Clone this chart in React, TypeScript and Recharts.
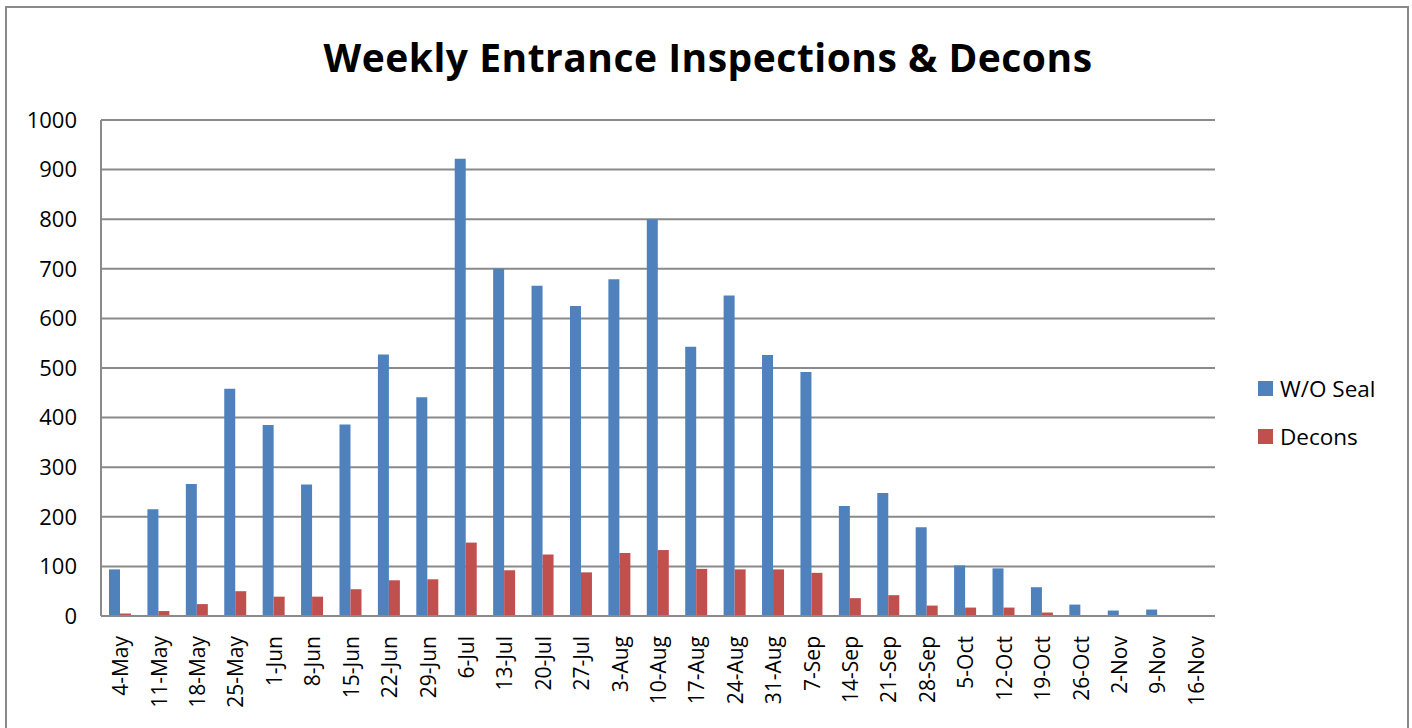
import React from "react";
import { BarChart, Bar, XAxis, YAxis, CartesianGrid } from "recharts";

const weeks = [
  "4-May", "11-May", "18-May", "25-May", "1-Jun", "8-Jun", "15-Jun", "22-Jun",
  "29-Jun", "6-Jul", "13-Jul", "20-Jul", "27-Jul", "3-Aug", "10-Aug", "17-Aug",
  "24-Aug", "31-Aug", "7-Sep", "14-Sep", "21-Sep", "28-Sep", "5-Oct", "12-Oct",
  "19-Oct", "26-Oct", "2-Nov", "9-Nov", "16-Nov",
];

const woSeal = [
  94, 215, 266, 458, 385, 265, 386, 527, 441, 922, 700, 666, 625, 679, 800,
  543, 646, 526, 492, 222, 248, 179, 102, 96, 58, 23, 11, 13, 0,
];

const decons = [
  5, 10, 24, 50, 39, 39, 54, 72, 74, 148, 92, 124, 88, 127, 133, 95, 94, 94,
  87, 36, 42, 21, 17, 17, 7, 0, 0, 0, 0,
];

const yTicks = [0, 100, 200, 300, 400, 500, 600, 700, 800, 900, 1000];

const series = [
  { key: "woSeal", name: "W/O Seal", color: "#4F81BD" },
  { key: "decons", name: "Decons", color: "#C0504D" },
];

const data = weeks.map((week, i) => ({
  week,
  woSeal: woSeal[i],
  decons: decons[i],
}));

const font = "'Open Sans', 'Noto Sans', sans-serif";

function WeekTick(props: any) {
  const { x, y, payload } = props;
  return (
    <text
      x={0}
      y={0}
      transform={`translate(${x},${y + 12}) rotate(-90)`}
      textAnchor="end"
      dominantBaseline="central"
      fontSize={21}
      fill="#000"
      fontFamily={font}
    >
      {payload.value}
    </text>
  );
}

export default function App() {
  return (
    <div
      style={{
        position: "absolute",
        left: 0,
        top: 0,
        width: 1412,
        height: 728,
        overflow: "hidden",
        background: "#fff",
        fontFamily: font,
      }}
    >
      <div
        style={{
          position: "absolute",
          left: 5,
          top: 6,
          width: 1400,
          height: 740,
          border: "2px solid #8a8a8a",
        }}
      />
      <div
        style={{
          position: "absolute",
          left: 0,
          width: 1412,
          top: 29,
          textAlign: "center",
          fontSize: 39,
          fontWeight: 700,
          letterSpacing: 0.5,
          lineHeight: "56px",
          paddingLeft: 2,
        }}
      >
        Weekly Entrance Inspections &amp; Decons
      </div>
      <div style={{ position: "absolute", left: 0, top: 0 }}>
        <BarChart
          width={1412}
          height={728}
          data={data}
          margin={{ top: 120, right: 197, bottom: 0, left: 0 }}
          barGap={0}
          barSize={11}
        >
          <CartesianGrid
            vertical={false}
            stroke="#8a8a8a"
            strokeWidth={2}
          />
          <XAxis
            dataKey="week"
            interval={0}
            height={112}
            tickLine={false}
            axisLine={{ stroke: "#8a8a8a", strokeWidth: 2 }}
            tick={<WeekTick />}
          />
          <YAxis
            domain={[0, 1000]}
            ticks={yTicks}
            width={101}
            tickLine={false}
            tickSize={0}
            tickMargin={24}
            axisLine={{ stroke: "#8a8a8a", strokeWidth: 2 }}
            tick={{ fill: "#000", fontSize: 22, fontFamily: font }}
          />
          {series.map((s) => (
            <Bar
              key={s.key}
              dataKey={s.key}
              name={s.name}
              fill={s.color}
              isAnimationActive={false}
            />
          ))}
        </BarChart>
      </div>
      <div style={{ position: "absolute", left: 1258, top: 364 }}>
        {series.map((s) => (
          <div
            key={s.key}
            style={{
              display: "flex",
              alignItems: "center",
              height: 48,
              fontSize: 22.5,
            }}
          >
            <span
              style={{
                width: 15,
                height: 15,
                background: s.color,
                marginRight: 7,
                display: "inline-block",
              }}
            />
            {s.name}
          </div>
        ))}
      </div>
    </div>
  );
}
